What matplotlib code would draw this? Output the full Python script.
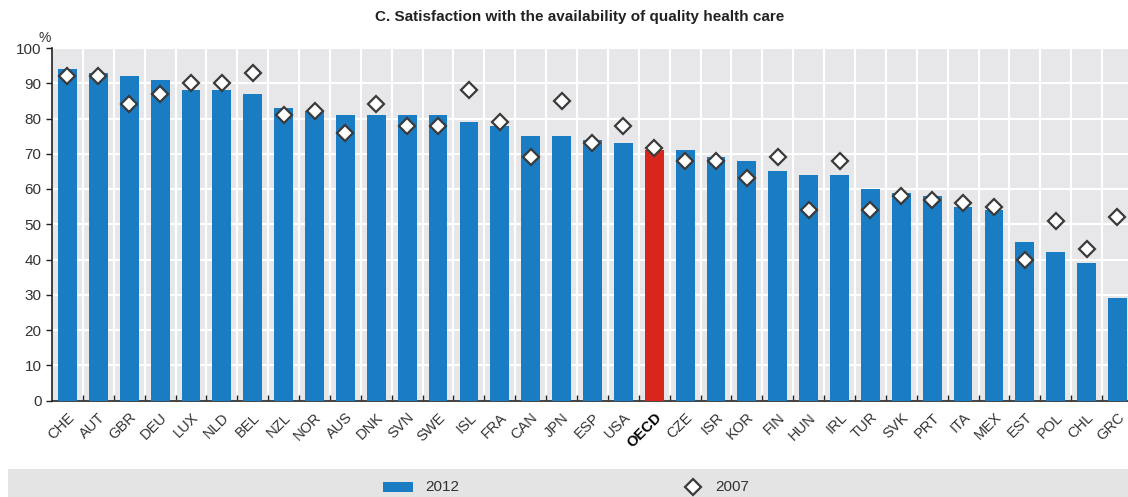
import numpy as np
import matplotlib.pyplot as plt
from matplotlib.patches import Rectangle
from matplotlib.lines import Line2D

countries = ['CHE', 'AUT', 'GBR', 'DEU', 'LUX', 'NLD', 'BEL', 'NZL', 'NOR', 'AUS',
             'DNK', 'SVN', 'SWE', 'ISL', 'FRA', 'CAN', 'JPN', 'ESP', 'USA', 'OECD',
             'CZE', 'ISR', 'KOR', 'FIN', 'HUN', 'IRL', 'TUR', 'SVK', 'PRT', 'ITA',
             'MEX', 'EST', 'POL', 'CHL', 'GRC']
val_2012 = [94, 93, 92, 91, 88, 88, 87, 83, 82, 81,
            81, 81, 81, 79, 78, 75, 75, 74, 73, 71,
            71, 69, 68, 65, 64, 64, 60, 59, 58, 55,
            54, 45, 42, 39, 29]
val_2007 = [92, 92, 84, 87, 90, 90, 93, 81, 82, 76,
            84, 78, 78, 88, 79, 69, 85, 73, 78, 71.5,
            68, 68, 63, 69, 54, 68, 54, 58, 57, 56,
            55, 40, 51, 43, 52]

plt.rcParams['font.family'] = ['Liberation Sans Narrow', 'Liberation Sans', 'DejaVu Sans']
blue = '#1a7dc3'
red = '#d9261c'
txt = '#333333'

fig = plt.figure(figsize=(11.28, 4.97), dpi=100)
ax = fig.add_axes([52/1128, 1-400.5/497, 1076/1128, 352.5/497])
ax.set_facecolor('#e7e7ea')

x = np.arange(len(countries))
colors = [red if c == 'OECD' else blue for c in countries]
ax.bar(x, val_2012, width=0.61, color=colors, zorder=3)
ax.plot(x, val_2007, linestyle='none', marker='D', markersize=8.5,
        markerfacecolor='white', markeredgecolor='#3a3a3a', markeredgewidth=1.6, zorder=4)

ax.set_xlim(-0.5, 34.34)
ax.set_ylim(0, 100)
ax.set_yticks(range(0, 101, 10))
ax.set_xticks(x)
ax.set_xticks(np.arange(len(countries) - 1) + 0.5, minor=True)
ax.set_xticklabels(countries, rotation=45, ha='right', rotation_mode='anchor',
                   fontsize=10.5, color=txt)
for lab in ax.get_xticklabels():
    if lab.get_text() == 'OECD':
        lab.set_fontweight('bold')
        lab.set_color('black')
ax.tick_params(axis='x', which='major', length=0, pad=7)
ax.tick_params(axis='x', which='minor', direction='in', length=4, color='#222222', width=1)
ax.tick_params(axis='y', length=4, color='#222222', labelsize=11, labelcolor=txt, width=1)

ax.grid(axis='y', color='white', linewidth=1.5, zorder=0)
ax.grid(axis='x', which='minor', color='white', linewidth=1.5, zorder=0)
ax.set_axisbelow(True)
for s in ['top', 'right']:
    ax.spines[s].set_visible(False)
for s in ['left', 'bottom']:
    ax.spines[s].set_color('#222222')
    ax.spines[s].set_linewidth(1.2)

fig.text(45/1128, 1-45/497, '%', fontsize=10, color=txt, ha='center', va='bottom')
fig.text(580/1128, 1-17/497, 'C. Satisfaction with the availability of quality health care',
         fontsize=11, fontweight='bold', color='#222222', ha='center', va='center')

# legend band
fig.patches.append(Rectangle((8/1128, 0), 1120/1128, 28/497, transform=fig.transFigure,
                             facecolor='#e4e4e4', edgecolor='none', zorder=0))
fig.patches.append(Rectangle((383/1128, 1-492/497), 30/1128, 10/497, transform=fig.transFigure,
                             facecolor=blue, edgecolor='none', zorder=1))
fig.text(425/1128, 1-487/497, '2012', fontsize=11, color=txt, va='center')
fig.lines.append(Line2D([693/1128], [1-487/497], transform=fig.transFigure, marker='D',
                        markersize=8, markerfacecolor='white', markeredgecolor='#3a3a3a',
                        markeredgewidth=1.6, linestyle='none'))
fig.text(715/1128, 1-487/497, '2007', fontsize=11, color=txt, va='center')

fig.savefig('out.png', dpi=100)
